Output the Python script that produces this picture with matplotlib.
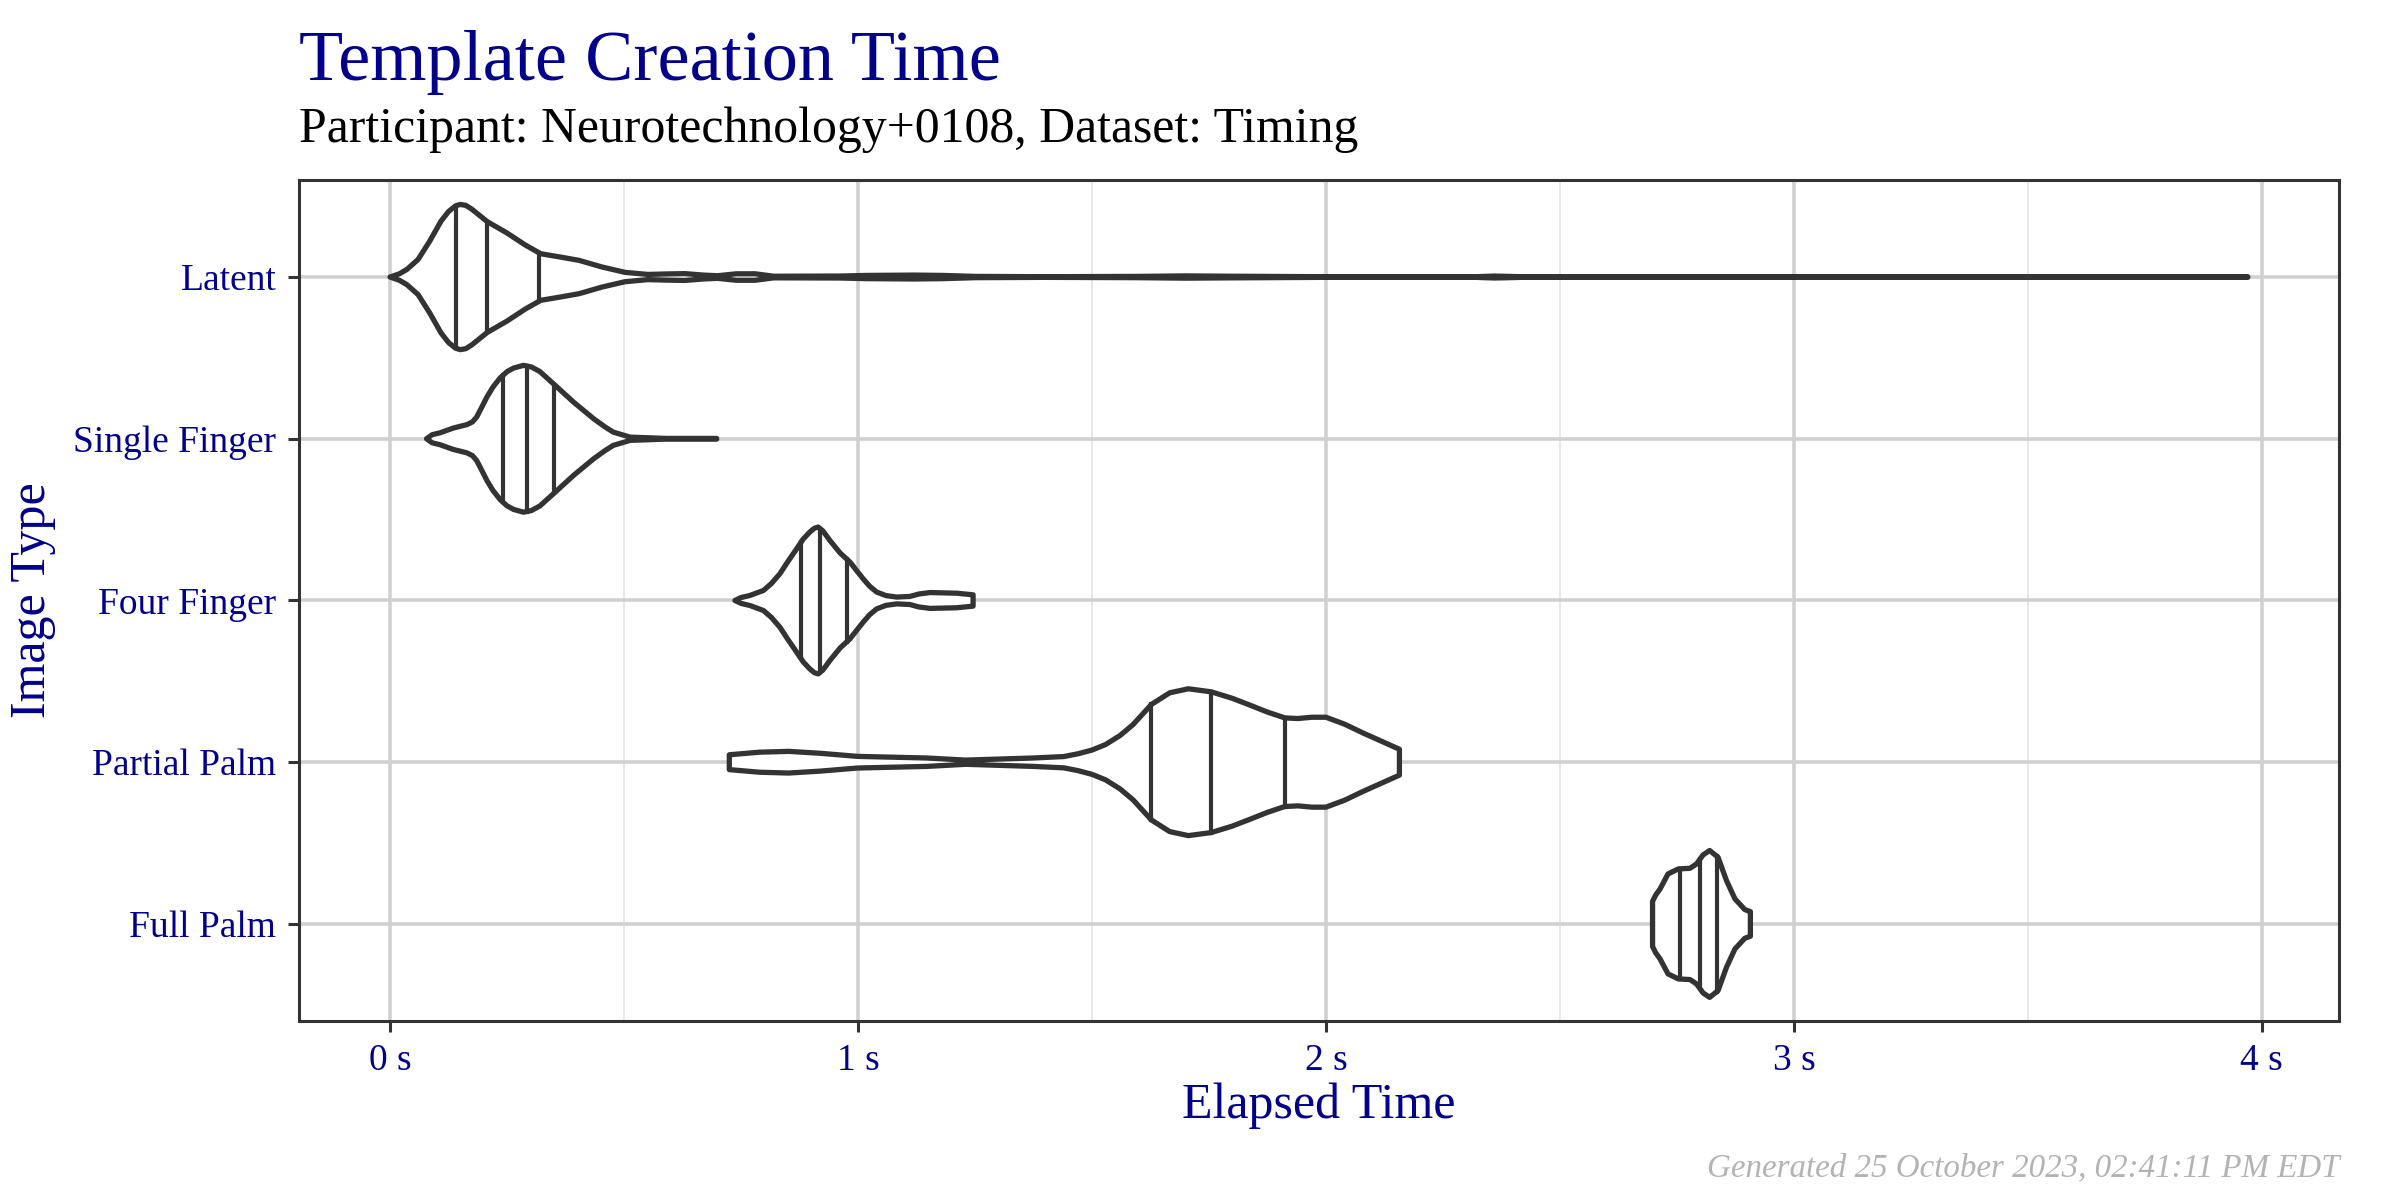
import matplotlib.pyplot as plt
import numpy as np

plt.rcParams['font.family'] = ['Liberation Serif', 'DejaVu Serif']

# categories, top to bottom
image_types = ['Latent', 'Single Finger', 'Four Finger', 'Partial Palm', 'Full Palm']

# violin outlines: elapsed time (s) and half width (category units)
latent_t = [0.000, 0.020, 0.036, 0.060, 0.085, 0.109, 0.125, 0.140, 0.150, 0.162, 0.175, 0.208,
            0.249, 0.289, 0.322, 0.363, 0.404, 0.453, 0.502, 0.551, 0.590, 0.630, 0.670,
            0.700, 0.740, 0.780, 0.820, 0.960, 1.020, 1.120, 1.180, 1.250, 1.400, 1.600,
            1.700, 1.800, 2.000, 2.320, 2.360, 2.420, 3.000, 3.970]
latent_w = [0.000, 0.020, 0.047, 0.109, 0.223, 0.346, 0.405, 0.440, 0.449, 0.443, 0.419, 0.342,
            0.274, 0.198, 0.144, 0.124, 0.103, 0.062, 0.029, 0.016, 0.019, 0.021, 0.012,
            0.008, 0.020, 0.020, 0.005, 0.006, 0.010, 0.012, 0.010, 0.004, 0.002, 0.004,
            0.007, 0.005, 0.002, 0.002, 0.006, 0.002, 0.002, 0.002]
latent_q = [0.142, 0.208, 0.318]

single_t = [0.078, 0.090, 0.107, 0.135, 0.164, 0.176, 0.185, 0.196, 0.207, 0.220, 0.235, 0.250,
            0.264, 0.285, 0.302, 0.320, 0.353, 0.392, 0.435, 0.460, 0.477, 0.513, 0.591, 0.698]
single_w = [0.000, 0.025, 0.037, 0.066, 0.087, 0.104, 0.134, 0.195, 0.258, 0.320, 0.375, 0.415,
            0.437, 0.454, 0.444, 0.416, 0.330, 0.227, 0.124, 0.072, 0.041, 0.010, 0.002, 0.002]
single_q = [0.242, 0.292, 0.351]

four_t = [0.737, 0.750, 0.769, 0.798, 0.815, 0.833, 0.850, 0.869, 0.883, 0.897, 0.907, 0.915,
          0.925, 0.940, 0.962, 0.983, 0.997, 1.011, 1.025, 1.040, 1.060, 1.083, 1.111, 1.130,
          1.154, 1.211, 1.246]
four_w = [0.000, 0.018, 0.031, 0.062, 0.105, 0.165, 0.240, 0.320, 0.380, 0.423, 0.447, 0.454,
          0.430, 0.371, 0.293, 0.237, 0.185, 0.134, 0.088, 0.052, 0.030, 0.021, 0.025, 0.040,
          0.049, 0.045, 0.035]
four_q = [0.878, 0.919, 0.976]

partial_t = [0.725, 0.790, 0.852, 0.920, 0.999, 1.147, 1.230, 1.375, 1.440, 1.470, 1.500, 1.529,
             1.560, 1.588, 1.627, 1.666, 1.706, 1.755, 1.800, 1.834, 1.875, 1.912, 1.940, 1.970,
             2.000, 2.040, 2.079, 2.120, 2.157]
partial_w = [0.046, 0.062, 0.067, 0.055, 0.036, 0.026, 0.013, 0.026, 0.035, 0.052, 0.075, 0.109,
             0.165, 0.233, 0.357, 0.429, 0.454, 0.435, 0.395, 0.357, 0.310, 0.274, 0.270, 0.278,
             0.278, 0.235, 0.181, 0.128, 0.080]
partial_q = [1.627, 1.755, 1.912]

full_t = [2.698, 2.705, 2.714, 2.731, 2.753, 2.778, 2.792, 2.806, 2.820, 2.838, 2.856, 2.874,
          2.895, 2.907]
full_w = [0.140, 0.180, 0.216, 0.309, 0.340, 0.344, 0.371, 0.427, 0.454, 0.412, 0.268, 0.155,
          0.089, 0.076]
full_q = [2.756, 2.799, 2.835]

x_ticks = [0, 1, 2, 3, 4]
x_tick_labels = ['0 s', '1 s', '2 s', '3 s', '4 s']

violins = [(latent_t, latent_w, latent_q),
           (single_t, single_w, single_q),
           (four_t, four_w, four_q),
           (partial_t, partial_w, partial_q),
           (full_t, full_w, full_q)]

navy = '#00008B'
ink = '#333333'

fig = plt.figure(figsize=(12, 6), dpi=200)
ax = fig.add_axes([0.1244, 0.1492, 0.8502, 0.7008])

n = len(image_types)
for i, (t, w, q) in enumerate(violins):
    y = n - i
    t = np.array(t)
    w = np.array(w)
    xs = np.concatenate([t, t[::-1]])
    ys = np.concatenate([y + w, (y - w)[::-1]])
    ax.fill(xs, ys, facecolor='white', edgecolor=ink, lw=1.9, joinstyle='round', zorder=3)
    for qx in q:
        hw = np.interp(qx, t, w)
        ax.plot([qx, qx], [y - hw, y + hw], color=ink, lw=1.5, zorder=4)

ax.set_xlim(-0.1955, 4.165)
ax.set_ylim(0.4, 5.6)
ax.set_xticks(x_ticks)
ax.set_xticklabels(x_tick_labels)
ax.set_xticks([0.5, 1.5, 2.5, 3.5], minor=True)
ax.set_yticks(range(n, 0, -1))
ax.set_yticklabels(image_types)
ax.tick_params(which='major', length=4, width=1.1, color=ink, labelsize=13.5,
               labelcolor=navy, pad=4)
ax.tick_params(which='minor', length=0)
ax.grid(which='major', color='#d0d0d0', lw=1.3)
ax.grid(which='minor', axis='x', color='#e8e8e8', lw=0.7)
ax.set_axisbelow(True)
for s in ax.spines.values():
    s.set_color(ink)
    s.set_linewidth(1.1)

fig.text(0.1244, 0.9333, 'Template Creation Time', fontsize=26, color=navy, va='baseline')
fig.text(0.1244, 0.8817, 'Participant: Neurotechnology+0108, Dataset: Timing', fontsize=17.9,
         color='black', va='baseline')
fig.text(0.5496, 0.0683, 'Elapsed Time', fontsize=18, color=navy, ha='center', va='baseline')
fig.text(0.0135, 0.4996, 'Image Type', fontsize=18, color=navy, rotation=90,
         ha='center', va='center')
fig.text(0.975, 0.0194, 'Generated 25 October 2023, 02:41:11 PM EDT', fontsize=11.9,
         color='#b3b3b3', style='italic', ha='right', va='baseline')

fig.savefig('out.png', dpi=200)
